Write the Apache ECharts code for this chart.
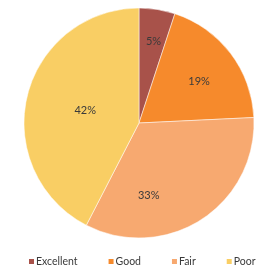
<!DOCTYPE html>
<html>
<head>
<meta charset="utf-8">
<script src="https://cdn.jsdelivr.net/npm/echarts@6/dist/echarts.min.js"></script>
<style>
    html, body { margin: 0; padding: 0; background: #fff; }
    #chart { width: 263px; height: 269px; }
</style>
</head>
<body>
<div id="chart"></div>
<script>
const categories = ["Excellent", "Good", "Fair", "Poor"];
const shares = [5, 19, 33, 42];

const colors = ["#a8524a", "#f68a2c", "#f7a970", "#f9ce64"];
// сдвиг подписей относительно стандартной позиции "inside"
const labelOffsets = [[5, -22], [12, -5], [-23, 22], [5, 2]];

const chart = echarts.init(document.getElementById("chart"));

chart.setOption({
    animation: false,
    color: colors,
    textStyle: { fontFamily: "Lato" },
    legend: {
        top: 256,
        left: 27,
        width: 400,
        padding: 0,
        itemWidth: 7,
        itemHeight: 7,
        itemGap: 29,
        icon: "rect",
        textStyle: { fontSize: 10.5, color: "#3a3a3a", padding: [0, 0, 0, -4] },
        data: categories
    },
    series: [
        {
            type: "pie",
            center: [139, 123],
            radius: 115,
            startAngle: 90,
            clockwise: true,
            label: {
                position: "inside",
                formatter: "{c}%",
                fontSize: 11,
                color: "#3a3a3a"
            },
            labelLine: { show: false },
            itemStyle: { borderColor: "#fff", borderWidth: 0.5 },
            emphasis: { disabled: true },
            data: categories.map((name, i) => ({
                name: name,
                value: shares[i],
                label: { offset: labelOffsets[i] }
            }))
        }
    ]
});
</script>
</body>
</html>
